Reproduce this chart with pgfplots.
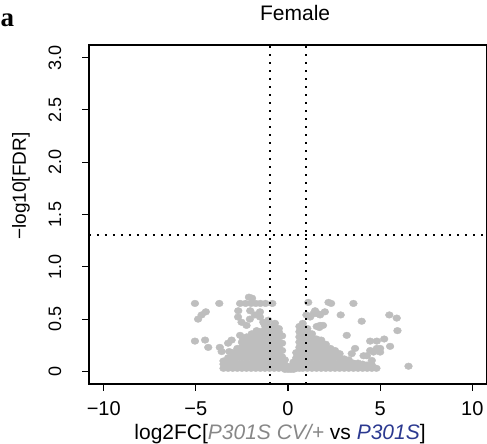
\documentclass[border=0pt]{standalone}
\usepackage{pgfplots}
\pgfplotsset{compat=1.18}
\usepackage{fontspec}
\setmainfont{Liberation Sans}
\newfontfamily\tnr{Liberation Serif}
\definecolor{ptgray}{RGB}{190,190,190}
\definecolor{lblgray}{RGB}{135,135,135}
\definecolor{lblblue}{RGB}{43,57,144}
\begin{document}
\begin{tikzpicture}
\useasboundingbox (-89pt,-60pt) rectangle (398pt,384pt);
\begin{axis}[
  scale only axis, width=398pt, height=339pt,
  at={(0pt,0pt)}, anchor=south west,
  clip mode=individual,
  xmin=-10.8, xmax=10.8, ymin=-0.12, ymax=3.12,
  axis line style={line width=1.1pt},
  tick style={line width=1.1pt, black},
  tick align=outside, major tick length=6.5pt,
  xtick pos=bottom, ytick pos=left,
  xtick={-10,-5,0,5,10}, xticklabels={−10,−5,0,5,10},
  ytick={0,0.5,1,1.5,2,2.5,3}, yticklabels={0,0.5,1.0,1.5,2.0,2.5,3.0},
  xticklabel style={font=\fontsize{20}{24}\selectfont, anchor=north, inner sep=0pt},
  yticklabel style={font=\fontsize{18}{21}\selectfont, rotate=90, anchor=south, inner sep=0pt},
  xticklabel shift=11pt, yticklabel shift=21pt,
  title={Female},
  title style={font=\fontsize{21}{25}\selectfont, at={(axis description cs:0.518,1)}, anchor=base, yshift=18pt, inner sep=0pt},
  xlabel={log2FC[{\color{lblgray}\itshape P301S CV/+} vs {\color{lblblue}\itshape P301S}]},
  xlabel style={font=\fontsize{21}{25}\selectfont, at={(axis description cs:0.48,0)}, anchor=base, yshift=-55pt, inner sep=0pt},
  ylabel={−log10[FDR]},
  ylabel style={font=\fontsize{19}{23}\selectfont, at={(axis description cs:-0.171,0.584)}, anchor=center, inner sep=0pt},
]
% dense core
\addplot[only marks, mark=*, mark size=3.9pt, color=ptgray, mark options={fill=ptgray, draw=ptgray, yscale=0.85}] coordinates {
(-3.5,0.03) (-3.5,0.07) (-3.5,0.10)
(-3.25,0.03) (-3.25,0.08) (-3.25,0.13)
(-3.0,0.03) (-3.0,0.08) (-3.0,0.13) (-3.0,0.18)
(-2.75,0.03) (-2.75,0.08) (-2.75,0.13) (-2.75,0.18) (-2.75,0.22)
(-2.5,0.03) (-2.5,0.08) (-2.5,0.13) (-2.5,0.18) (-2.5,0.23) (-2.5,0.28)
(-2.25,0.03) (-2.25,0.08) (-2.25,0.13) (-2.25,0.18) (-2.25,0.23) (-2.25,0.28) (-2.25,0.31)
(-2.0,0.03) (-2.0,0.08) (-2.0,0.13) (-2.0,0.18) (-2.0,0.23) (-2.0,0.28) (-2.0,0.33)
(-1.75,0.03) (-1.75,0.08) (-1.75,0.13) (-1.75,0.18) (-1.75,0.23) (-1.75,0.28) (-1.75,0.33) (-1.75,0.36)
(-1.5,0.03) (-1.5,0.08) (-1.5,0.13) (-1.5,0.18) (-1.5,0.23) (-1.5,0.28) (-1.5,0.33) (-1.5,0.38)
(-1.25,0.03) (-1.25,0.08) (-1.25,0.13) (-1.25,0.18) (-1.25,0.23) (-1.25,0.28) (-1.25,0.33) (-1.25,0.38) (-1.25,0.40)
(-1.0,0.03) (-1.0,0.08) (-1.0,0.13) (-1.0,0.18) (-1.0,0.23) (-1.0,0.28) (-1.0,0.33) (-1.0,0.38) (-1.0,0.43)
(-0.75,0.03) (-0.75,0.08) (-0.75,0.13) (-0.75,0.18) (-0.75,0.23) (-0.75,0.28) (-0.75,0.33) (-0.75,0.38) (-0.75,0.43)
(-0.5,0.03) (-0.5,0.08) (-0.5,0.13) (-0.5,0.18) (-0.5,0.23) (-0.5,0.28) (-0.5,0.33) (-0.5,0.38) (-0.5,0.41)
(-0.32,0.04) (-0.32,0.09) (-0.32,0.14) (-0.32,0.20) (-0.32,0.27) (-0.32,0.34)
(-0.17,0.02) (-0.17,0.06) (-0.17,0.11)
(0.0,0.02) (0.0,0.045)
(0.15,0.02) (0.15,0.05)
(0.3,0.02) (0.3,0.06) (0.3,0.09)
(0.45,0.03) (0.45,0.08) (0.45,0.13) (0.45,0.18)
(0.62,0.03) (0.62,0.08) (0.62,0.13) (0.62,0.18) (0.62,0.23) (0.62,0.28) (0.62,0.33) (0.62,0.38) (0.62,0.43)
(0.8,0.03) (0.8,0.08) (0.8,0.13) (0.8,0.18) (0.8,0.23) (0.8,0.28) (0.8,0.33) (0.8,0.38) (0.8,0.43) (0.8,0.46)
(1.05,0.03) (1.05,0.08) (1.05,0.13) (1.05,0.18) (1.05,0.23) (1.05,0.28) (1.05,0.33) (1.05,0.38) (1.05,0.41)
(1.3,0.03) (1.3,0.08) (1.3,0.13) (1.3,0.18) (1.3,0.23) (1.3,0.28) (1.3,0.33) (1.3,0.36)
(1.55,0.03) (1.55,0.08) (1.55,0.13) (1.55,0.18) (1.55,0.23) (1.55,0.28) (1.55,0.31)
(1.8,0.03) (1.8,0.08) (1.8,0.13) (1.8,0.18) (1.8,0.23) (1.8,0.28) (1.8,0.30)
(2.05,0.03) (2.05,0.08) (2.05,0.13) (2.05,0.18) (2.05,0.23) (2.05,0.26)
(2.3,0.03) (2.3,0.08) (2.3,0.13) (2.3,0.18) (2.3,0.22)
(2.55,0.03) (2.55,0.08) (2.55,0.13) (2.55,0.18) (2.55,0.20)
(2.8,0.03) (2.8,0.08) (2.8,0.13) (2.8,0.17)
(3.05,0.03) (3.05,0.08) (3.05,0.12)
(3.3,0.03) (3.3,0.08) (3.3,0.11)
(3.55,0.03) (3.55,0.08)
(3.8,0.03) (3.8,0.08)
(4.05,0.03) (4.05,0.07)
(4.3,0.03) (4.3,0.06)
(4.55,0.03) (4.55,0.06)
(4.8,0.03)
};
% scattered genes
\addplot[only marks, mark=*, mark size=3.9pt, color=ptgray, mark options={fill=ptgray, draw=ptgray, yscale=0.85}] coordinates {
(-5.05,0.65) (-3.73,0.65) (-4.46,0.57) (-4.69,0.54) (-4.88,0.50)
(-5.05,0.29) (-4.5,0.30) (-4.33,0.23) (-3.7,0.23) (-3.6,0.19) (-3.19,0.19)
(-3.06,0.30) (-3.25,0.27) (-2.6,0.345) (-2.43,0.31)
(-2.12,0.71) (-1.95,0.70) (-2.6,0.65) (-2.3,0.65) (-2.0,0.65) (-1.75,0.65)
(-1.5,0.65) (-1.22,0.65) (-0.85,0.65)
(-2.7,0.58) (-2.05,0.58) (-1.52,0.57)
(-2.71,0.52) (-2.52,0.47) (-2.07,0.50) (-1.8,0.54) (-1.52,0.52) (-1.34,0.47)
(-1.07,0.49) (-0.71,0.46) (-2.25,0.44) (-1.25,0.44)
(-1.7,0.39) (-1.97,0.36) (-2.25,0.33) (-2.07,0.31) (-1.7,0.28)
(1.1,0.66) (2.2,0.66) (2.34,0.65) (3.55,0.65)
(1.0,0.54) (1.2,0.52) (1.38,0.55) (1.47,0.58) (1.65,0.55) (1.74,0.54) (2.0,0.57)
(2.86,0.54) (1.74,0.44) (1.56,0.43) (1.9,0.44) (1.7,0.42)
(4.0,0.48) (5.5,0.54) (5.9,0.51) (5.94,0.39) (3.19,0.345)
(4.46,0.29) (4.82,0.29) (5.22,0.31) (5.54,0.24)
(5.0,0.22) (4.64,0.185) (4.28,0.15) (3.64,0.22) (3.46,0.17)
(4.1,0.15) (4.46,0.20) (4.82,0.22) (5.0,0.185) (4.55,0.105) (4.28,0.06)
(6.54,0.05)
};
% threshold lines
\addplot[black, line width=2pt, dash pattern=on 2pt off 6pt] coordinates {(-1,-0.12) (-1,3.12)};
\addplot[black, line width=2pt, dash pattern=on 2pt off 6pt] coordinates {(1,-0.12) (1,3.12)};
\addplot[black, line width=2pt, dash pattern=on 2pt off 6pt] coordinates {(-10.8,1.3) (10.8,1.3)};
\node[anchor=base west, inner sep=0pt, font=\tnr\bfseries\fontsize{27}{30}\selectfont] at (rel axis cs:-0.2225, 1.056) {a};
\end{axis}
\end{tikzpicture}
\end{document}
